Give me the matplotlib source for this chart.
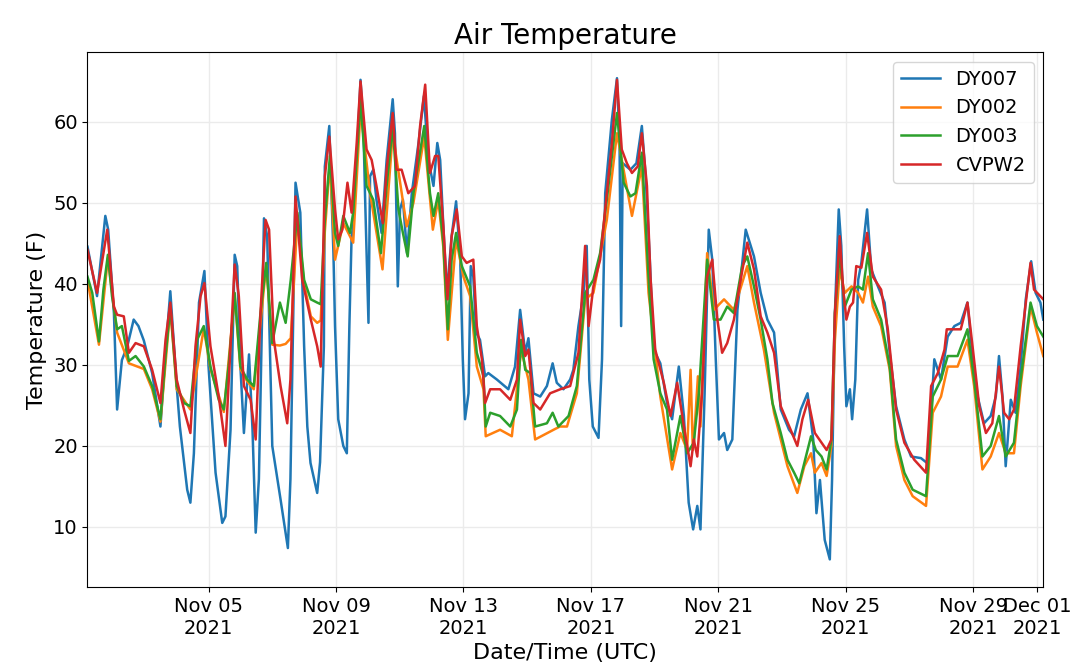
import matplotlib
matplotlib.use('Agg')
import matplotlib.pyplot as plt
import matplotlib.dates as mdates
import pandas as pd

# time offsets are in days after 2021-11-01 00:00 UTC, temperatures in F
dy007_days = [0.2, 0.5, 0.76, 0.85, 1.03, 1.13, 1.28, 1.45, 1.65, 1.8, 1.97, 2.23, 2.49, 2.65, 2.8,
              3.0, 3.1, 3.33, 3.43, 3.54, 3.7, 3.87, 4.0, 4.22, 4.43, 4.53, 4.69, 4.82, 4.9, 5.0, 5.11,
              5.27, 5.38, 5.48, 5.58, 5.74, 5.84, 6.0, 6.26, 6.49, 6.57, 6.73, 6.88, 7.0, 7.1, 7.2, 7.41,
              7.5, 7.62, 7.65, 7.79, 7.92, 7.97, 8.07, 8.23, 8.34, 8.42, 8.49, 8.54, 8.65, 8.77, 8.86,
              8.91, 9.02, 9.07, 9.17, 9.27, 9.43, 9.59, 9.78, 9.85, 9.94, 10.01, 10.1, 10.23, 10.38,
              10.59, 10.76, 10.9, 11.06, 11.18, 11.27, 11.37, 11.48, 11.63, 11.77, 11.9, 11.98, 12.05,
              12.16, 12.23, 12.31, 12.4, 12.52, 12.68, 12.78, 13.05, 13.41, 13.62, 13.78, 13.94, 14.04,
              14.2, 14.41, 14.62, 14.8, 14.93, 15.14, 15.35, 15.45, 15.61, 15.77, 15.87, 15.95, 16.06,
              16.24, 16.35, 16.45, 16.66, 16.82, 16.9, 16.95, 17.0, 17.24, 17.43, 17.6, 17.72, 17.85,
              17.97, 18.18, 18.39, 18.55, 18.76, 18.92, 19.07, 19.21, 19.34, 19.44, 19.57, 19.7, 19.81,
              19.92, 20.02, 20.18, 20.28, 20.44, 20.6, 20.86, 21.12, 21.33, 21.54, 21.75, 21.96, 22.22,
              22.38, 22.59, 22.8, 22.98, 23.08, 23.19, 23.34, 23.5, 23.57, 23.66, 23.78, 23.86, 23.95,
              24.02, 24.13, 24.2, 24.3, 24.39, 24.49, 24.67, 24.8, 25.01, 25.22, 25.38, 25.58, 25.84,
              26.05, 26.36, 26.55, 26.68, 26.78, 26.99, 27.2, 27.41, 27.61, 27.82, 27.98, 28.14, 28.34,
              28.55, 28.71, 28.81, 28.92, 29.02, 29.18, 29.33, 29.49, 29.65, 29.82, 29.96, 30.11, 30.2]
dy007_vals = [44.6, 38.5, 48.4, 46.7, 36.4, 24.5, 30.6, 32.3, 35.6, 34.8, 33.0, 29.0, 22.4, 31.5, 39.1,
              27.4, 22.4, 14.6, 13.0, 19.1, 37.7, 41.6, 29.8, 16.7, 10.5, 11.3, 22.0, 43.6, 42.2, 29.8, 21.6,
              31.3, 22.0, 9.3, 15.9, 48.1, 45.9, 20.0, 13.4, 7.4, 15.9, 52.5, 48.8, 32.3, 22.4, 17.9, 14.2,
              18.0, 32.3, 54.5, 59.5, 43.8, 34.8, 23.3, 20.0, 19.1, 34.8, 45.9, 47.1, 55.3, 65.2, 59.5,
              51.2, 35.2, 53.3, 54.1, 50.4, 46.3, 55.3, 62.8, 58.6, 39.7, 49.2, 50.4, 43.8, 51.2,
              57.4, 63.2, 55.3, 52.1, 57.4, 55.3, 47.1, 38.9, 45.9, 50.2, 43.0, 30.7, 23.3,
              26.5, 42.2, 40.9, 34.0, 33.1, 28.6, 29.0, 28.2, 27.0, 29.8, 36.8, 31.5, 33.3,
              26.5, 26.1, 27.4, 30.2, 27.8, 27.0, 28.2, 29.4, 34.8, 38.9, 44.7, 28.2, 22.4,
              21.0, 30.7, 51.2, 60.3, 65.4, 57.4, 34.8, 54.9, 54.1, 54.9, 59.5, 53.3, 43.0,
              31.9, 30.2, 25.3, 23.3, 29.8, 23.7, 13.0, 9.7, 12.6, 9.7, 26.5, 46.7, 43.0,
              30.7, 20.8, 21.6, 19.5, 20.8, 36.8, 46.7, 43.4, 38.9, 35.6, 34.0, 24.5, 22.0,
              21.2, 24.5, 26.5, 20.8, 11.7, 15.8, 8.4, 6.0, 15.8, 36.4, 49.2, 44.7, 32.3,
              24.9, 27.0, 23.3, 28.2, 40.5, 42.6, 49.2, 41.8, 39.7, 37.7, 31.5, 24.9, 20.8,
              18.7, 18.5, 17.9, 24.1, 30.7, 28.2, 33.5, 34.8, 35.2, 37.7, 31.1, 26.1, 22.8,
              23.7, 26.1, 31.1, 26.1, 17.5, 25.7, 24.1, 29.8, 38.1, 42.8, 38.9, 37.7, 35.6]

dy002_days = [0.2, 0.56, 0.84, 1.13, 1.5, 1.97, 2.23, 2.49, 2.8, 3.0, 3.43, 3.85, 4.06, 4.48, 4.82,
              5.0, 5.21, 5.42, 5.81, 6.0, 6.24, 6.42, 6.58, 6.79, 7.0, 7.21, 7.41, 7.52, 7.65, 7.81,
              7.97, 8.23, 8.54, 8.77, 9.07, 9.46, 9.78, 10.22, 10.43, 10.77, 11.04, 11.21, 11.37, 11.51,
              11.77, 12.0, 12.21, 12.42, 12.63, 12.7, 13.15, 13.52, 13.81, 14.04, 14.25, 14.83, 15.03,
              15.25, 15.56, 15.82, 16.08, 16.5, 16.82, 17.29, 17.6, 17.81, 18.18, 18.55, 18.81, 19.02,
              19.13, 19.2, 19.23, 19.36, 19.44, 19.65, 19.86, 20.18, 20.49, 20.91, 21.12, 21.43, 21.75,
              22.17, 22.48, 22.7, 22.91, 23.03, 23.24, 23.4, 23.55, 23.66, 23.81, 23.97, 24.18, 24.39,
              24.54, 24.7, 24.85, 25.11, 25.38, 25.58, 25.84, 26.1, 26.52, 26.73, 26.99, 27.2, 27.51,
              27.82, 28.03, 28.29, 28.55, 28.81, 29.02, 29.28, 29.49, 29.8, 30.0, 30.2]
dy002_vals = [40.5, 32.5, 43.2, 34.0, 30.2, 29.5, 27.0, 23.0, 37.0, 27.0, 24.5, 34.5, 29.5, 24.2, 38.5,
              29.5, 28.0, 27.0, 42.3, 32.5, 32.4, 32.6, 33.3, 48.0, 40.0, 36.0, 35.2, 35.5, 46.5, 55.0,
              43.0, 47.5, 45.1, 61.5, 51.2, 41.8, 58.6, 47.1, 50.0, 58.2, 46.7, 50.4, 44.5, 33.1,
              45.5, 40.9, 38.5, 29.8, 27.0, 21.2, 22.0, 21.2, 31.9, 28.2, 20.8, 22.0, 22.4,
              22.4, 26.5, 38.1, 38.9, 47.9, 58.6, 48.4, 54.5, 38.9, 26.1, 17.1, 21.6, 19.5,
              29.4, 19.5, 20.4, 28.6, 22.4, 43.8, 36.8, 38.1, 36.8, 42.2, 37.7, 31.9, 24.1,
              17.5, 14.2, 17.5, 19.1, 16.7, 17.9, 16.3, 20.0, 33.1, 41.8, 38.9, 39.7, 38.9,
              37.7, 40.9, 37.2, 34.8, 29.4, 20.0, 15.8, 13.8, 12.6, 24.1, 26.1, 29.8, 29.8,
              33.1, 27.4, 17.1, 18.7, 21.6, 19.1, 19.1, 27.4, 37.2, 34.0, 31.1]

dy003_days = [0.2, 0.35, 0.56, 0.7, 0.84, 0.97, 1.13, 1.28, 1.5, 1.71, 1.97, 2.23, 2.49, 2.65, 2.8,
              3.0, 3.23, 3.43, 3.64, 3.85, 4.06, 4.32, 4.48, 4.64, 4.82, 5.0, 5.21, 5.42, 5.63, 5.81,
              6.0, 6.24, 6.42, 6.58, 6.79, 7.0, 7.21, 7.41, 7.52, 7.65, 7.81, 7.97, 8.07, 8.23, 8.44,
              8.54, 8.77, 8.96, 9.17, 9.41, 9.59, 9.78, 9.96, 10.1, 10.25, 10.43, 10.77, 10.95, 11.06,
              11.21, 11.37, 11.51, 11.63, 11.77, 11.95, 12.21, 12.42, 12.63, 12.7, 12.84, 13.15, 13.47,
              13.68, 13.81, 13.94, 14.1, 14.25, 14.62, 14.8, 14.98, 15.3, 15.56, 15.82, 16.08, 16.29,
              16.5, 16.82, 17.03, 17.24, 17.4, 17.6, 17.81, 17.97, 18.18, 18.39, 18.55, 18.81, 19.02,
              19.23, 19.39, 19.65, 19.86, 20.07, 20.28, 20.49, 20.75, 20.91, 21.12, 21.33, 21.54, 21.7,
              21.96, 22.17, 22.38, 22.54, 22.7, 22.91, 23.06, 23.24, 23.4, 23.55, 23.66, 23.81, 23.97,
              24.18, 24.39, 24.54, 24.7, 24.85, 25.11, 25.38, 25.58, 25.84, 26.1, 26.52, 26.73, 26.99,
              27.2, 27.51, 27.82, 28.03, 28.29, 28.55, 28.81, 29.02, 29.28, 29.49, 29.8, 30.0, 30.2]
dy003_vals = [40.9, 38.9, 32.9, 39.3, 43.6, 38.5, 34.4, 34.8, 30.5, 31.1, 29.8, 27.4, 23.3, 31.1, 37.2,
              27.4, 25.3, 24.9, 33.1, 34.8, 29.8, 25.7, 24.5, 30.2, 38.9, 29.8, 28.2, 27.4, 36.4, 42.6,
              32.7, 37.7, 35.2, 40.5, 48.8, 40.5, 38.1, 37.7, 37.5, 47.9, 55.8, 46.3, 44.7, 48.4, 46.3,
              48.8, 62.8, 52.1, 50.4, 43.8, 52.1, 59.5, 49.2, 46.3, 43.4, 51.2, 59.5, 51.2, 48.4,
              51.2, 45.1, 34.4, 43.0, 46.3, 42.2, 39.7, 31.5, 28.6, 22.4, 24.1, 23.7, 22.4,
              24.5, 33.1, 29.4, 29.0, 22.4, 22.8, 24.1, 22.4, 23.7, 27.4, 38.9, 40.5, 43.8,
              50.4, 61.1, 52.5, 50.8, 51.2, 56.2, 40.9, 30.7, 26.5, 24.5, 18.3, 23.7, 19.1,
              20.4, 26.5, 43.0, 35.6, 35.6, 37.2, 36.4, 42.2, 43.4, 39.7, 35.6, 30.7, 25.3,
              21.6, 18.3, 16.7, 15.4, 17.9, 21.2, 19.5, 18.7, 17.1, 20.8, 36.4, 43.8, 37.2,
              39.3, 39.7, 39.3, 43.8, 38.1, 35.6, 29.8, 20.8, 16.7, 14.6, 13.8, 26.1, 28.2,
              31.1, 31.1, 34.4, 28.2, 18.7, 20.0, 23.7, 18.7, 20.4, 28.2, 37.7, 34.8, 33.5]

cvpw2_days = [0.2, 0.5, 0.82, 1.03, 1.13, 1.34, 1.5, 1.71, 1.97, 2.23, 2.49, 2.65, 2.8, 3.0, 3.23,
              3.43, 3.59, 3.75, 3.87, 4.06, 4.32, 4.53, 4.69, 4.82, 4.95, 5.11, 5.32, 5.48, 5.63, 5.79,
              5.9, 6.05, 6.26, 6.47, 6.57, 6.73, 6.94, 7.21, 7.41, 7.52, 7.65, 7.79, 7.97, 8.07, 8.2,
              8.36, 8.49, 8.65, 8.77, 8.96, 9.12, 9.27, 9.47, 9.59, 9.78, 9.9, 10.06, 10.27, 10.48,
              10.64, 10.8, 10.95, 11.11, 11.21, 11.37, 11.5, 11.63, 11.79, 11.95, 12.1, 12.31, 12.42,
              12.58, 12.68, 12.84, 13.15, 13.47, 13.68, 13.78, 13.94, 14.04, 14.2, 14.41, 14.72, 15.04,
              15.35, 15.61, 15.82, 15.93, 16.08, 16.29, 16.45, 16.66, 16.82, 16.97, 17.13, 17.29, 17.47,
              17.6, 17.76, 17.87, 18.02, 18.29, 18.5, 18.71, 18.92, 19.13, 19.23, 19.34, 19.49, 19.65,
              19.81, 19.97, 20.12, 20.28, 20.49, 20.7, 20.91, 21.12, 21.33, 21.54, 21.75, 21.96, 22.27,
              22.48, 22.64, 22.82, 23.03, 23.24, 23.4, 23.55, 23.66, 23.81, 23.92, 24.02, 24.13, 24.23,
              24.33, 24.49, 24.67, 24.85, 25.11, 25.32, 25.58, 25.84, 26.15, 26.52, 26.68, 26.89, 27.1,
              27.17, 27.41, 27.61, 27.82, 27.98, 28.19, 28.4, 28.6, 28.81, 28.97, 29.13, 29.28, 29.49,
              29.8, 29.91, 30.2]
cvpw2_vals = [44.2, 38.9, 46.7, 37.2, 36.2, 36.0, 31.5, 32.7, 32.3, 29.4, 25.3, 33.1, 37.7, 28.2, 24.5,
              21.6, 32.3, 38.5, 40.1, 32.3, 26.1, 20.0, 32.3, 42.4, 38.5, 27.4, 25.7, 20.8, 36.4, 47.9,
              46.7, 33.1, 27.4, 22.8, 28.2, 50.8, 40.5, 35.6, 32.3, 29.8, 53.3, 58.2, 49.2, 45.5, 46.7,
              52.5, 48.8, 57.4, 65.0, 56.6, 55.3, 52.1, 47.5, 54.1, 61.1, 54.1, 54.1, 51.2, 52.1,
              59.5, 64.6, 53.7, 55.8, 55.8, 47.1, 38.1, 45.9, 49.2, 43.4, 42.6, 43.0, 34.8,
              30.7, 25.3, 27.0, 27.0, 25.7, 28.2, 35.6, 31.1, 31.9, 25.3, 24.5, 26.5, 27.0,
              27.4, 31.5, 44.7, 34.8, 39.7, 43.0, 49.2, 57.4, 65.2, 56.6, 54.9, 53.7, 54.5,
              58.6, 52.1, 40.9, 31.9, 27.8, 23.7, 27.8, 22.4, 17.5, 20.8, 18.7, 26.5, 40.9,
              43.0, 35.6, 31.5, 32.7, 35.6, 40.5, 45.1, 41.8, 36.0, 34.0, 31.5, 24.9, 22.0,
              20.0, 23.3, 25.7, 21.6, 20.4, 19.5, 20.8, 36.4, 45.9, 39.3, 35.6, 37.2, 37.7,
              42.2, 42.0, 46.3, 40.9, 39.3, 34.4, 24.5, 20.4, 18.3, 16.7, 27.4, 29.0, 31.9,
              34.4, 34.4, 34.4, 37.7, 32.3, 24.9, 21.6, 22.8, 29.8, 24.1, 23.3, 24.5, 32.3,
              42.6, 39.3, 38.1]

start = pd.Timestamp('2021-11-01')


def to_time(days):
    return start + pd.to_timedelta(days, unit='D')


fig, ax = plt.subplots(figsize=(10.8, 6.7), dpi=100)
fig.subplots_adjust(left=0.081, right=0.966, top=0.922, bottom=0.124)

ax.plot(to_time(dy007_days), dy007_vals, color='tab:blue', lw=1.8, label='DY007')
ax.plot(to_time(dy002_days), dy002_vals, color='tab:orange', lw=1.8, label='DY002')
ax.plot(to_time(dy003_days), dy003_vals, color='tab:green', lw=1.8, label='DY003')
ax.plot(to_time(cvpw2_days), cvpw2_vals, color='tab:red', lw=1.8, label='CVPW2')

ax.set_xlim(to_time(0.2), to_time(30.2))
ax.set_ylim(2.6, 68.6)
ax.xaxis.set_major_locator(mdates.DayLocator(bymonthday=[1, 5, 9, 13, 17, 21, 25, 29]))
ax.xaxis.set_major_formatter(mdates.DateFormatter('%b %d\n%Y'))
ax.grid(True, color='#ebebeb', lw=1)
ax.set_axisbelow(True)
ax.tick_params(labelsize=14)
ax.set_title('Air Temperature', fontsize=20)
ax.set_xlabel('Date/Time (UTC)', fontsize=16)
ax.set_ylabel('Temperature (F)', fontsize=16)
ax.legend(loc='upper right', fontsize=14)

fig.savefig('out.png', dpi=100)
